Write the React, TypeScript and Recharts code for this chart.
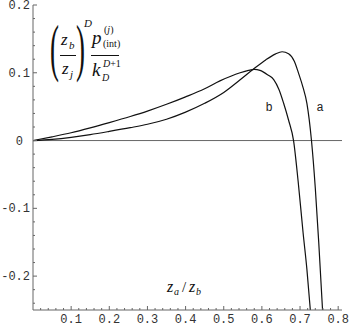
import React from 'react';
import { LineChart, Line, XAxis, YAxis, ReferenceLine } from 'recharts';

// ---- data ----
const aX = [0, 0.05, 0.1, 0.15, 0.2, 0.255, 0.3, 0.35, 0.4, 0.45, 0.5, 0.543, 0.578, 0.61, 0.635, 0.653, 0.67, 0.685, 0.696, 0.708, 0.718, 0.73, 0.74, 0.749, 0.759];
const aY = [0, 0.0018, 0.0048, 0.0088, 0.0135, 0.019, 0.024, 0.0315, 0.042, 0.055, 0.071, 0.0897, 0.1055, 0.119, 0.1275, 0.131, 0.128, 0.117, 0.0995, 0.078, 0.055, 0, -0.07, -0.15, -0.25];
const bX = [0, 0.05, 0.1, 0.15, 0.2, 0.255, 0.3, 0.35, 0.4, 0.45, 0.49, 0.543, 0.565, 0.58, 0.595, 0.615, 0.631, 0.645, 0.657, 0.67, 0.683, 0.695, 0.708, 0.718, 0.727];
const bY = [0, 0.0055, 0.0115, 0.0187, 0.0265, 0.0355, 0.0435, 0.0535, 0.0645, 0.0765, 0.088, 0.1, 0.1035, 0.105, 0.1035, 0.097, 0.09, 0.075, 0.055, 0.03, 0, -0.06, -0.136, -0.19, -0.25];

const xMajor = [0.1, 0.2, 0.3, 0.4, 0.5, 0.6, 0.7, 0.8];
const xTicks = [0.02, 0.04, 0.06, 0.08, 0.1, 0.12, 0.14, 0.16, 0.18, 0.2, 0.22, 0.24, 0.26, 0.28, 0.3, 0.32, 0.34, 0.36, 0.38, 0.4, 0.42, 0.44, 0.46, 0.48, 0.5, 0.52, 0.54, 0.56, 0.58, 0.6, 0.62, 0.64, 0.66, 0.68, 0.7, 0.72, 0.74, 0.76, 0.78, 0.8];
const yMajor = [-0.2, -0.1, 0, 0.1, 0.2];
const yTicks = [-0.24, -0.22, -0.2, -0.18, -0.16, -0.14, -0.12, -0.1, -0.08, -0.06, -0.04, -0.02, 0, 0.02, 0.04, 0.06, 0.08, 0.1, 0.12, 0.14, 0.16, 0.18, 0.2];

const dataA = aX.map((x, i) => ({ x, y: aY[i] }));
const dataB = bX.map((x, i) => ({ x, y: bY[i] }));

const isMajor = (v: number, majors: number[]) => majors.some((m) => Math.abs(m - v) < 1e-6);
const fmt = (v: number) => (Math.abs(v) < 1e-9 ? '0' : String(Math.round(v * 10) / 10));

const FRAME = '#666';
const MONO = '"Liberation Mono", monospace';
const SERIF = '"Liberation Serif", serif';

const BottomTick = (props: any) => {
  const { x, y, payload } = props;
  const major = isMajor(payload.value, xMajor);
  return (
    <g>
      <line x1={x} x2={x} y1={y} y2={y - (major ? 4 : 2)} stroke={FRAME} strokeWidth={1} />
      {major && (
        <text x={x} y={y + 13} textAnchor="middle" fontFamily={MONO} fontSize={12} fill="#333">
          {fmt(payload.value)}
        </text>
      )}
    </g>
  );
};
const TopTick = (props: any) => {
  const { x, y, payload } = props;
  const major = isMajor(payload.value, xMajor);
  return <line x1={x} x2={x} y1={y} y2={y + (major ? 4 : 2)} stroke={FRAME} strokeWidth={1} />;
};
const LeftTick = (props: any) => {
  const { x, y, payload } = props;
  const major = isMajor(payload.value, yMajor);
  const zero = Math.abs(payload.value) < 1e-9;
  return (
    <g>
      <line x1={x} x2={x + (major ? 4 : 2)} y1={y} y2={y} stroke={FRAME} strokeWidth={1} />
      {major && (
        <text x={x - (zero ? 10 : 3)} y={y + 4} textAnchor="end" fontFamily={MONO} fontSize={12} fill="#333">
          {fmt(payload.value)}
        </text>
      )}
    </g>
  );
};
const RightTick = (props: any) => {
  const { x, y, payload } = props;
  const major = isMajor(payload.value, yMajor);
  return <line x1={x} x2={x - (major ? 4 : 2)} y1={y} y2={y} stroke={FRAME} strokeWidth={1} />;
};

export default function App() {
  return (
    <div style={{ position: 'absolute', left: 0, top: 0, width: 354, height: 327, background: '#fff' }}>
      <LineChart width={354} height={327} margin={{ top: 5, right: 12, bottom: 0, left: 0 }}>
        <XAxis
          xAxisId={0}
          dataKey="x"
          type="number"
          domain={[0, 0.81]}
          ticks={xTicks}
          interval={0}
          allowDataOverflow
          height={17}
          tickSize={0}
          tickMargin={0}
          tickLine={false}
          axisLine={{ stroke: FRAME }}
          tick={<BottomTick />}
        />
        <XAxis
          xAxisId="top"
          orientation="top"
          dataKey="x"
          type="number"
          domain={[0, 0.81]}
          ticks={xTicks}
          interval={0}
          allowDataOverflow
          height={0}
          tickSize={0}
          tickMargin={0}
          tickLine={false}
          axisLine={{ stroke: FRAME }}
          tick={<TopTick />}
        />
        <YAxis
          yAxisId={0}
          type="number"
          domain={[-0.25, 0.2]}
          ticks={yTicks}
          interval={0}
          allowDataOverflow
          width={33}
          tickSize={0}
          tickMargin={0}
          tickLine={false}
          axisLine={{ stroke: FRAME }}
          tick={<LeftTick />}
        />
        <YAxis
          yAxisId="right"
          orientation="right"
          type="number"
          domain={[-0.25, 0.2]}
          ticks={yTicks}
          interval={0}
          allowDataOverflow
          width={0}
          tickSize={0}
          tickMargin={0}
          tickLine={false}
          axisLine={{ stroke: FRAME }}
          tick={<RightTick />}
        />
        <ReferenceLine y={0} xAxisId={0} yAxisId={0} stroke={FRAME} strokeWidth={1} />
        <Line data={dataA} dataKey="y" xAxisId={0} yAxisId={0} type="monotone" stroke="#111" strokeWidth={1.2} dot={false} isAnimationActive={false} />
        <Line data={dataB} dataKey="y" xAxisId={0} yAxisId={0} type="monotone" stroke="#111" strokeWidth={1.2} dot={false} isAnimationActive={false} />
      </LineChart>
      <svg width={354} height={327} style={{ position: 'absolute', left: 0, top: 0, pointerEvents: 'none' }}>
        {/* formula */}
        <g fontFamily={SERIF} fill="#111">
          <text transform="translate(50,69) scale(0.42,1)" fontSize={64}>(</text>
          <text x={61} y={45} fontSize={17} fontStyle="italic">z</text>
          <text x={69} y={49} fontSize={11} fontStyle="italic">b</text>
          <line x1={60} x2={76} y1={55.5} y2={55.5} stroke="#111" strokeWidth={1} />
          <text x={62} y={74} fontSize={17} fontStyle="italic">z</text>
          <text x={70} y={78} fontSize={11} fontStyle="italic">j</text>
          <text transform="translate(76,69) scale(0.42,1)" fontSize={64}>)</text>
          <text x={84} y={27} fontSize={11} fontStyle="italic">D</text>
          <text x={92} y={44} fontSize={19} fontStyle="italic">p</text>
          <text x={104} y={33} fontSize={10}>(<tspan fontStyle="italic">j</tspan>)</text>
          <text x={103} y={47} fontSize={10}>(int)</text>
          <line x1={91} x2={119} y1={55.5} y2={55.5} stroke="#111" strokeWidth={1} />
          <text x={92} y={76} fontSize={19} fontStyle="italic">k</text>
          <text x={103} y={67} fontSize={10} fontStyle="italic">D<tspan fontStyle="normal">+1</tspan></text>
          <text x={102} y={81} fontSize={10} fontStyle="italic">D</text>
        </g>
        {/* axis label */}
        <g fontFamily={SERIF} fill="#111">
          <text x={167} y={292} fontSize={16} fontStyle="italic">z</text>
          <text x={174} y={295} fontSize={10} fontStyle="italic">a</text>
          <text x={182} y={292} fontSize={15}>/</text>
          <text x={189} y={292} fontSize={16} fontStyle="italic">z</text>
          <text x={196} y={295} fontSize={10} fontStyle="italic">b</text>
        </g>
        {/* curve labels */}
        <text x={269} y={111} textAnchor="middle" fontFamily={MONO} fontSize={12} fill="#222">b</text>
        <text x={320} y={111} textAnchor="middle" fontFamily={MONO} fontSize={12} fill="#222">a</text>
      </svg>
    </div>
  );
}
